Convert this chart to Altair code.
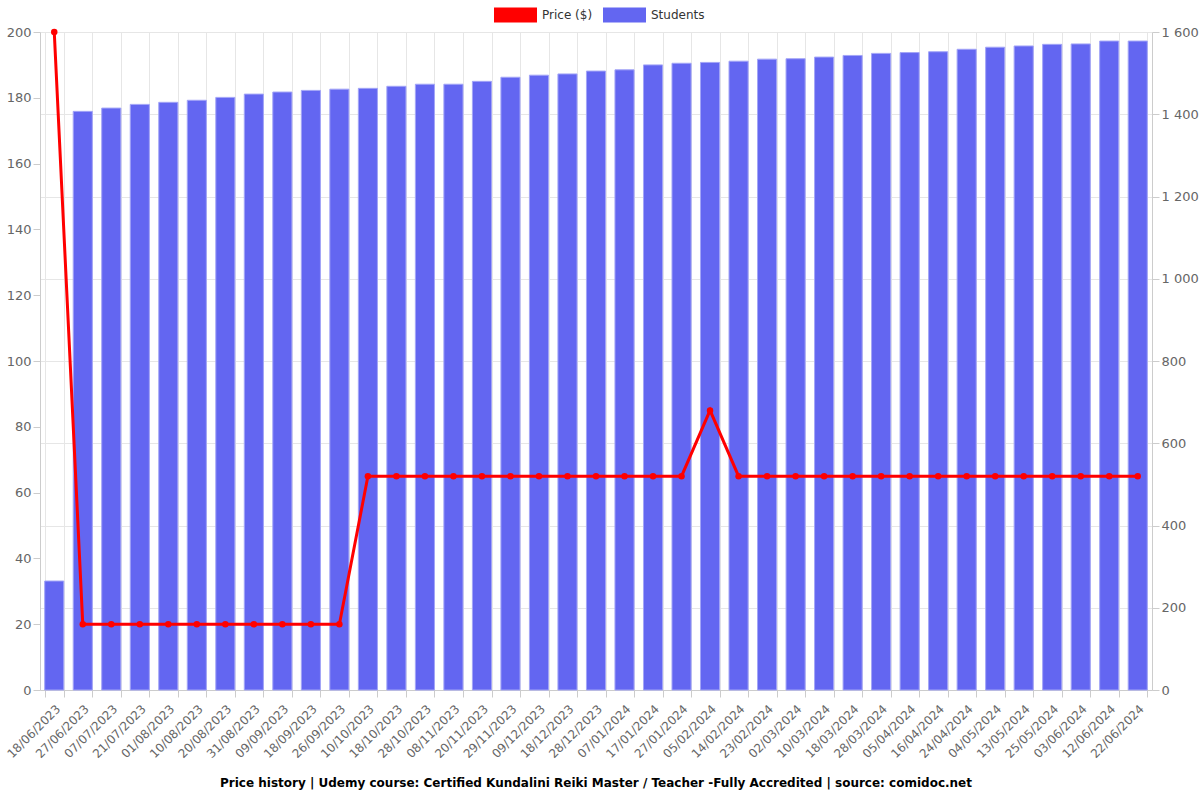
import altair as alt
import pandas as pd

dates = ["18/06/2023", "27/06/2023", "07/07/2023", "21/07/2023", "01/08/2023", "10/08/2023",
         "20/08/2023", "31/08/2023", "09/09/2023", "18/09/2023", "26/09/2023", "10/10/2023",
         "18/10/2023", "28/10/2023", "08/11/2023", "20/11/2023", "29/11/2023", "09/12/2023",
         "18/12/2023", "28/12/2023", "07/01/2024", "17/01/2024", "27/01/2024", "05/02/2024",
         "14/02/2024", "23/02/2024", "02/03/2024", "10/03/2024", "18/03/2024", "28/03/2024",
         "05/04/2024", "16/04/2024", "24/04/2024", "04/05/2024", "13/05/2024", "25/05/2024",
         "03/06/2024", "12/06/2024", "22/06/2024"]

prices = [199.99, 19.99, 19.99, 19.99, 19.99, 19.99, 19.99, 19.99, 19.99, 19.99, 19.99,
          64.99, 64.99, 64.99, 64.99, 64.99, 64.99, 64.99, 64.99, 64.99, 64.99, 64.99, 64.99,
          84.99, 64.99, 64.99, 64.99, 64.99, 64.99, 64.99, 64.99, 64.99, 64.99, 64.99, 64.99,
          64.99, 64.99, 64.99, 64.99]

students = [265, 1407, 1415, 1424, 1429, 1434, 1441, 1449, 1454, 1458, 1461, 1463, 1468,
            1473, 1473, 1480, 1490, 1495, 1498, 1505, 1508, 1520, 1524, 1526, 1529, 1534,
            1535, 1539, 1543, 1548, 1550, 1552, 1558, 1563, 1566, 1570, 1571, 1578, 1578]

price_ticks = [0, 20, 40, 60, 80, 100, 120, 140, 160, 180, 200]
student_ticks = [0, 200, 400, 600, 800, 1000, 1200, 1400, 1600]

df = pd.DataFrame({"date": dates, "price": prices, "students": students})

color_scale = alt.Scale(domain=["Price ($)", "Students"], range=["#ff0000", "#6366f1"])
legend = alt.Legend(
    orient="none", legendX=454, legendY=-39, direction="horizontal", title=None,
    symbolType="M-1,-0.35H1V0.35H-1Z", symbolSize=1849, symbolStrokeWidth=0,
    labelFontSize=12, labelColor="#333", labelFont="DejaVu Sans", columnPadding=10,
    labelOffset=5, symbolOpacity=1,
)

x = alt.X("date:N", sort=None, title=None,
          scale=alt.Scale(paddingInner=0.33, paddingOuter=0.165),
          axis=alt.Axis(labelAngle=-45, tickBand="extent", labelFontSize=12,
                        labelPadding=6, tickSize=7))

base = alt.Chart(df)

bars = base.transform_calculate(series="'Students'").mark_bar(
    stroke="#a3a5f7", strokeWidth=1
).encode(
    x=x,
    y=alt.Y("students:Q", title=None,
            scale=alt.Scale(domain=[0, 1600], nice=False),
            axis=alt.Axis(orient="right", values=student_ticks, tickSize=7,
                          labelExpr="replace(format(datum.value, ','), ',', ' ')")),
    color=alt.Color("series:N", scale=color_scale, legend=legend),
)

line = base.mark_line(color="#ff0000", strokeWidth=3).encode(
    x=x,
    y=alt.Y("price:Q", title=None,
            scale=alt.Scale(domain=[0, 200], nice=False),
            axis=alt.Axis(orient="left", values=price_ticks, tickSize=7)),
)

points = base.transform_calculate(series="'Price ($)'").mark_point(
    filled=True, size=42, opacity=1
).encode(
    x=x,
    y=alt.Y("price:Q", scale=alt.Scale(domain=[0, 200], nice=False)),
    color=alt.Color("series:N", scale=color_scale, legend=legend),
)

price_layer = alt.layer(line, points)

chart = alt.layer(bars, price_layer).resolve_scale(y="independent").properties(
    width=1112, height=658,
    autosize=alt.AutoSizeParams(type="none"),
    padding={"left": 40, "top": 32, "right": 48, "bottom": 110},
    title=alt.TitleParams(
        "Price history | Udemy course: Certified Kundalini Reiki Master / Teacher -Fully Accredited | source: comidoc.net",
        orient="bottom", anchor="middle", fontSize=12, font="DejaVu Sans",
        fontWeight="bold", color="#000", offset=18,
    ),
).configure_view(stroke=None).configure_axis(
    labelColor="#666", labelFont="DejaVu Sans", labelFontSize=13,
    gridColor="#e6e6e6", domainColor="#cccccc", tickColor="#cccccc",
    grid=True,
)

chart.save("out.html", embed_options={"renderer": "svg", "actions": False})
